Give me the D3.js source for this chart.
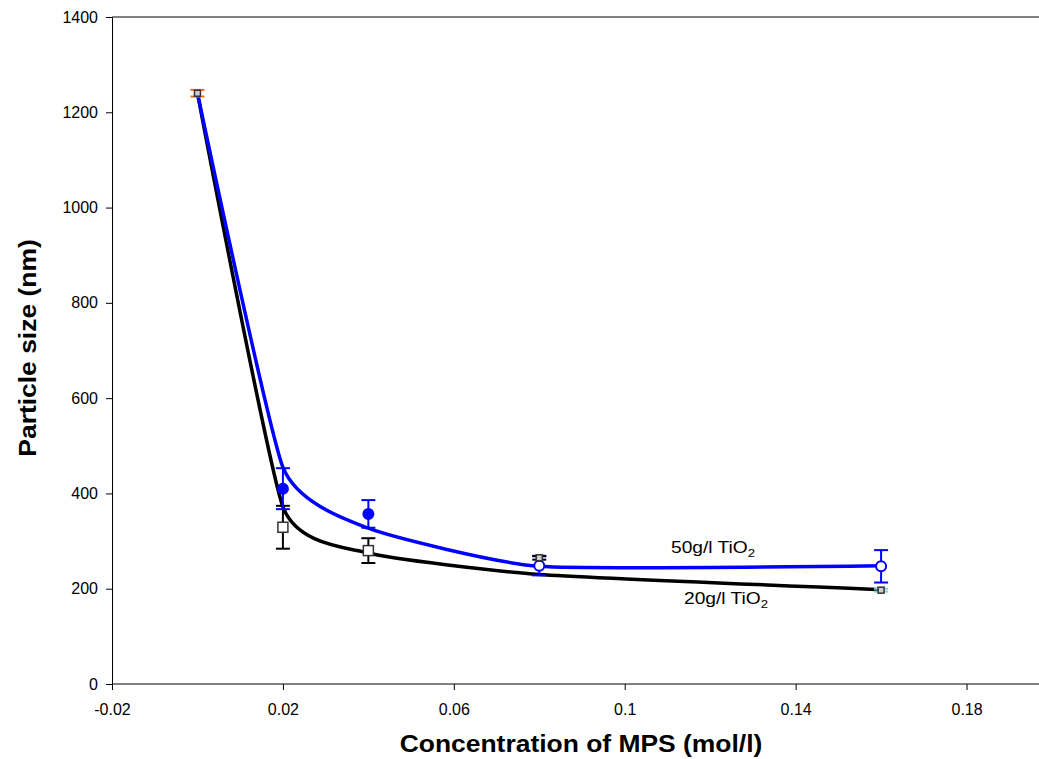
<!DOCTYPE html>
<html>
<head>
<meta charset="utf-8">
<script src="https://cdn.jsdelivr.net/npm/d3@7"></script>
<style>
  body { margin: 0; background: #fff; }
  svg { display: block; font-family: "Liberation Sans", Arial, sans-serif; }
</style>
</head>
<body>
<svg id="chart" width="1039" height="759"></svg>
<script>
// tick labels
const xTicks = [-0.02, 0.02, 0.06, 0.1, 0.14, 0.18];
const yTicks = [0, 200, 400, 600, 800, 1000, 1200, 1400];

// 20 g/l TiO2 measurements (open squares)
const conc20 = [0.02, 0.04];
const size20 = [329, 280];
const err20 = [45, 26];

// 50 g/l TiO2 measurements (circles)
const conc50 = [0.02, 0.04, 0.08, 0.16];
const size50 = [410, 357, 248, 247];
const err50 = [43, 29, 20, 34];
const filled50 = [true, true, false, false];

// reference points (small markers, coloured error bars)
const concRef = [0, 0.08, 0.16];
const sizeRef = [1240, 265, 197];
const errRef = [7, 4, 3];
const colRef = ['#ff6a13', '#000000', '#7fd8d8'];

// smoothed trend lines
const fitConc = [0, 0.02, 0.04, 0.08, 0.16];
const fit50 = [1240, 455, 327, 247, 248];
const fit20 = [1240, 372, 275, 230, 198];

const svg = d3.select('#chart');

let xScale = d3.scaleLinear()
    .domain([-0.02, 0.2])
    .range([112, 1052]);

let yScale = d3.scaleLinear()
    .domain([0, 1400])
    .range([684, 17]);

// frame: top border
svg.append('line')
    .attr('x1', xScale(-0.02)).attr('x2', 1039)
    .attr('y1', yScale(1400)).attr('y2', yScale(1400))
    .attr('stroke', '#000').attr('stroke-width', 1);

// axes
let axisX = d3.axisBottom(xScale)
    .tickValues(xTicks)
    .tickSize(6)
    .tickSizeOuter(0)
    .tickFormat(d => String(+d.toFixed(2)));

svg.append('g')
    .attr('transform', `translate(0, ${yScale(0)})`)
    .call(axisX)
    .call(g => g.select('.domain').attr('d', `M${xScale(-0.02)},0H1039`))
    .call(g => g.selectAll('text').attr('font-size', '16px').attr('y', 20).attr('dy', '0.71em'));

let axisY = d3.axisLeft(yScale)
    .tickValues(yTicks)
    .tickSize(6)
    .tickSizeOuter(0)
    .tickFormat(d3.format('d'));

svg.append('g')
    .attr('transform', `translate(${xScale(-0.02)}, 0)`)
    .call(axisY)
    .call(g => g.selectAll('text').attr('font-size', '16px').attr('x', -14));

svg.selectAll('g').attr('font-family', null);
svg.selectAll('.tick line, .domain').attr('stroke', '#000');
svg.selectAll('.tick text').attr('fill', '#000');

// trend lines
let line = d3.line()
    .x(d => xScale(d[0]))
    .y(d => yScale(d[1]))
    .curve(d3.curveCardinal.tension(0.5));

svg.append('path')
    .datum(fitConc.map((c, i) => [c, fit20[i]]))
    .attr('d', line)
    .attr('fill', 'none')
    .attr('stroke', '#000')
    .attr('stroke-width', 3.5);

svg.append('path')
    .datum(fitConc.map((c, i) => [c, fit50[i]]))
    .attr('d', line)
    .attr('fill', 'none')
    .attr('stroke', '#0000ff')
    .attr('stroke-width', 3.5);

// error bars
function errorBars(conc, size, err, colour, cls){
    let g = svg.append('g').classed(cls, true);
    conc.forEach((c, i) => {
        let col = typeof colour === 'function' ? colour(i) : colour;
        let x = xScale(c);
        let y0 = yScale(size[i] - err[i]);
        let y1 = yScale(size[i] + err[i]);
        g.append('line').attr('x1', x).attr('x2', x).attr('y1', y0).attr('y2', y1)
            .attr('stroke', col).attr('stroke-width', 2);
        [y0, y1].forEach(y => {
            g.append('line').attr('x1', x - 7).attr('x2', x + 7).attr('y1', y).attr('y2', y)
                .attr('stroke', col).attr('stroke-width', 2);
        });
    });
}

errorBars(conc20, size20, err20, '#000', 'err20');
errorBars(conc50, size50, err50, '#0000ff', 'err50');
errorBars(concRef, sizeRef, errRef, i => colRef[i], 'errRef');

// markers
svg.selectAll('.mark20')
    .data(conc20)
    .join('rect')
    .classed('mark20', true)
    .attr('x', d => xScale(d) - 5)
    .attr('y', (d, i) => yScale(size20[i]) - 5)
    .attr('width', 10)
    .attr('height', 10)
    .attr('fill', '#fff')
    .attr('stroke', '#333')
    .attr('stroke-width', 1.5);

svg.selectAll('.mark50')
    .data(conc50)
    .join('circle')
    .classed('mark50', true)
    .attr('cx', d => xScale(d))
    .attr('cy', (d, i) => yScale(size50[i]))
    .attr('r', 5)
    .attr('fill', (d, i) => filled50[i] ? '#0000ff' : '#fff')
    .attr('stroke', '#0000ff')
    .attr('stroke-width', 2);

svg.selectAll('.markRef')
    .data(concRef)
    .join('rect')
    .classed('markRef', true)
    .attr('x', d => xScale(d) - 3)
    .attr('y', (d, i) => yScale(sizeRef[i]) - 3)
    .attr('width', 6)
    .attr('height', 6)
    .attr('fill', '#ccc')
    .attr('stroke', '#333')
    .attr('stroke-width', 1.5);

// series labels
function seriesLabel(x, y, txt){
    let t = svg.append('text')
        .attr('transform', `translate(${x}, ${y}) scale(1.2, 1)`)
        .attr('font-size', '16px')
        .attr('fill', '#000');
    t.append('tspan').text(txt);
    t.append('tspan').text('2').attr('font-size', '11px').attr('dy', 4);
}
seriesLabel(671, 553, '50g/l TiO');
seriesLabel(684, 604, '20g/l TiO');

// axis titles
svg.append('text')
    .attr('transform', `translate(581, 752) scale(1.15, 1)`)
    .attr('text-anchor', 'middle')
    .attr('font-size', '23px')
    .attr('font-weight', 'bold')
    .text('Concentration of MPS (mol/l)');

svg.append('text')
    .attr('transform', `translate(36, 348) rotate(-90) scale(1.15, 1)`)
    .attr('text-anchor', 'middle')
    .attr('font-size', '23px')
    .attr('font-weight', 'bold')
    .text('Particle size (nm)');
</script>
</body>
</html>
